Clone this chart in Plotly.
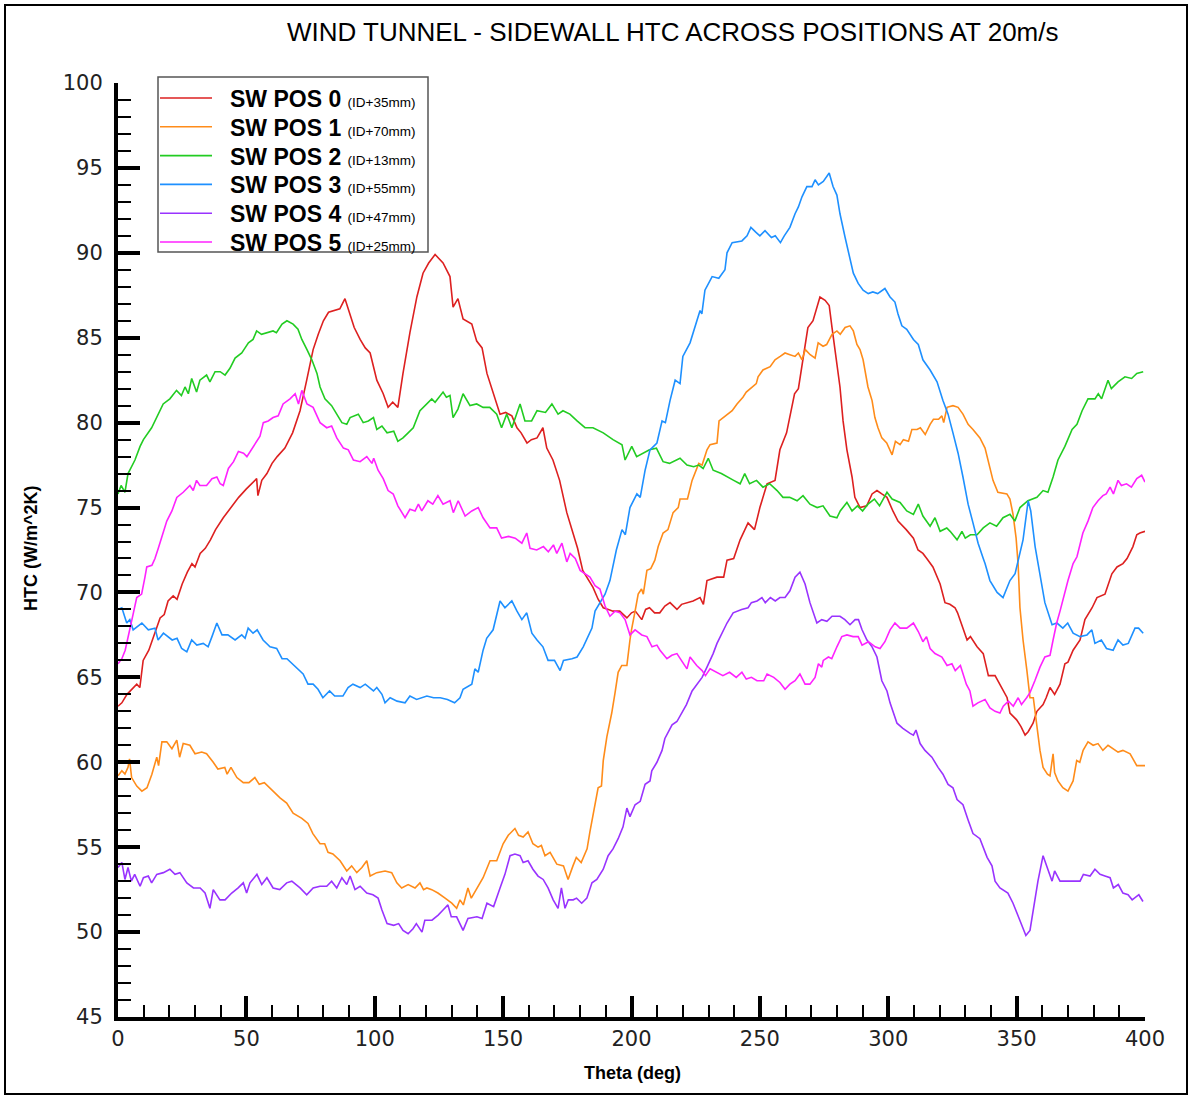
import plotly.graph_objects as go

# ---------------------------------------------------------------------------
# Sidewall heat-transfer coefficient vs. angular position, wind tunnel @ 20 m/s
# ---------------------------------------------------------------------------

series_names = ["SW POS 0", "SW POS 1", "SW POS 2", "SW POS 3", "SW POS 4", "SW POS 5"]
series_offsets = ["(ID+35mm)", "(ID+70mm)", "(ID+13mm)", "(ID+55mm)", "(ID+47mm)", "(ID+25mm)"]
series_colors = ["#dd2020", "#ff8c1a", "#22cc22", "#1e90ff", "#9933ff", "#ff22ff"]

x_ticks = [0, 50, 100, 150, 200, 250, 300, 350, 400]
y_ticks = [45, 50, 55, 60, 65, 70, 75, 80, 85, 90, 95, 100]

theta_pos0 = [0, 1.5, 3.5, 5.5, 7.3, 8.5, 9.8, 12, 14, 16.4, 18, 19.5, 21.5, 23, 25, 27, 28.8, 30, 32, 34,
              36, 38, 41, 43, 44.8, 47, 50, 52, 54, 54.5, 56, 58, 60, 62, 65, 68, 70.9, 73.5, 76, 78,
              80, 82, 83.8, 86.4, 88.4, 90.4, 92, 94.3, 96.3, 98.2, 100.8, 103.3, 105.2, 107, 109, 111, 113.7, 116.4, 118.8, 121,
              123.5, 126.6, 129.3, 130.5, 132.4, 134.4, 137.8, 139.7, 141.8, 143.7, 144.9, 146.8, 148.8, 151, 153.4, 155.4, 157, 159.3, 161, 163.2,
              165.5, 167, 169.4, 172, 174.8, 177.2, 179, 181, 183, 185, 187, 189, 191, 192.8, 195.4, 198.2, 200, 201.5, 204, 205.5,
              207, 209, 211, 213, 215, 217.7, 219.5, 221.6, 224, 226.7, 228, 229.4, 231, 233.3, 235.9, 237.2, 239.8, 242.3, 245.4, 247.9,
              250, 252.8, 255.9, 257.8, 260.4, 262.5, 263.5, 265, 266.8, 268.7, 270.7, 272.2, 273.4, 275.4, 277, 278.1, 279.3, 281.2, 282.4, 283.9,
              285.9, 287, 289, 291.6, 293.7, 295.6, 297.5, 299.5, 301.8, 303.8, 307, 309.8, 311.6, 313.5, 315, 317.4, 320.2, 322.1, 324, 326,
              327, 329, 330.7, 332, 334.6, 337, 339, 341.6, 344.3, 346.3, 347.4, 350, 351.7, 353.3, 354.5, 356.4, 357.9, 360.3, 361.5, 363,
              364.8, 366.9, 368.8, 370, 372, 374.7, 376.6, 379.4, 381.3, 384.4, 387.1, 389.1, 391.4, 393, 395.3, 396.8, 398, 400]
htc_pos0 = [63.3, 63.5, 64.0, 64.3, 64.6, 64.4, 66.0, 66.6, 67.5, 68.5, 68.7, 69.5, 69.8, 69.6, 70.5, 71.2, 71.7, 71.5, 72.3, 72.6,
            73.1, 73.7, 74.4, 74.8, 75.2, 75.6, 76.1, 76.4, 76.7, 75.7, 76.6, 77.0, 77.6, 78.0, 78.5, 79.4, 80.7, 82.5, 84.3, 85.2,
            86.0, 86.5, 86.6, 86.7, 87.3, 86.4, 85.6, 84.9, 84.4, 84.1, 82.5, 81.7, 80.9, 81.2, 80.9, 82.9, 85.3, 87.4, 88.8, 89.4,
            89.9, 89.4, 88.6, 86.8, 87.3, 86.1, 85.8, 84.8, 84.4, 82.9, 82.3, 81.5, 80.5, 80.6, 80.4, 79.7, 79.4, 78.8, 79.0, 79.1,
            79.7, 78.5, 77.8, 76.6, 74.7, 73.5, 72.6, 71.3, 70.8, 70.3, 69.6, 69.1, 69.0, 68.9, 68.9, 68.5, 68.8, 68.9, 68.4, 69.0,
            69.1, 68.8, 68.8, 69.2, 69.4, 69.0, 69.3, 69.4, 69.5, 69.7, 69.3, 70.7, 70.8, 70.9, 70.9, 71.9, 72.0, 73.1, 74.1, 73.7,
            75.0, 76.4, 76.6, 78.4, 79.4, 80.9, 81.7, 82.0, 83.7, 85.6, 86.0, 86.8, 87.4, 87.2, 86.9, 85.6, 84.3, 82.1, 80.1, 78.4,
            76.8, 75.6, 75.0, 75.1, 75.8, 76.0, 75.8, 75.6, 74.8, 74.2, 73.7, 73.2, 72.5, 72.3, 72.0, 71.5, 70.5, 69.4, 69.3, 69.1,
            68.8, 67.9, 67.2, 67.4, 66.8, 66.4, 65.1, 65.1, 64.4, 63.8, 62.9, 62.5, 62.1, 61.6, 61.8, 62.3, 63.0, 63.4, 63.8, 64.4,
            64.0, 64.6, 65.8, 65.9, 66.6, 67.2, 68.4, 69.1, 69.7, 69.9, 71.1, 71.5, 71.7, 72.0, 72.7, 73.4, 73.5, 73.6]

theta_pos1 = [0, 1.5, 2.7, 3.9, 4.5, 5.3, 7.3, 9.3, 11.3, 13.2, 15.1, 15.8, 17.1, 19, 21, 22.9, 24, 25.4, 28, 30,
              32.6, 34.5, 37.1, 38.9, 41.6, 42.5, 44, 46.3, 48.8, 51, 53.3, 55, 57, 60.4, 63.1, 65.7, 68.2, 71.6, 74, 75.9,
              78.7, 80.5, 81.8, 83.7, 86.5, 89.1, 91, 93, 95, 96.9, 98.2, 100.8, 104, 106.6, 108.6, 110.5, 113, 115.7, 117.6, 119,
              120.3, 122.2, 124.6, 127.4, 130, 131.9, 133.2, 134.5, 136.3, 137.6, 139.8, 142.2, 144.9, 147.5, 150, 152, 154.6, 156, 157.8, 159.7,
              161.6, 163.6, 164.9, 166.3, 168.3, 170.9, 173.5, 175.3, 177.2, 178.5, 180.4, 182.7, 183.8, 185.8, 187, 188.3, 189, 190.4, 192.3, 193.6,
              194.8, 196.2, 198.2, 199.4, 200, 201.4, 202.6, 203.9, 204.6, 206, 207.5, 209.1, 210.4, 212.3, 214.2, 216.2, 218.2, 218.9, 221.8, 223.6,
              225.5, 226.2, 227.5, 229.4, 230.6, 233.3, 234.1, 236.8, 239.2, 241.1, 243.4, 244.7, 247.3, 248.6, 249.3, 251.2, 254, 255.9, 257.9, 259.8,
              261.7, 263.7, 265, 266.4, 267.7, 269.6, 271.5, 272.7, 274.6, 276, 278.1, 280, 281.3, 283.2, 285.1, 286.4, 287.8, 289, 290.2, 292.1,
              293.7, 294.8, 296, 297.5, 299.4, 301.5, 302.8, 304.6, 305.9, 307.9, 309.2, 311.2, 312.5, 314.4, 316.3, 317.6, 319.6, 320.9, 321.6, 322.9,
              325.2, 327.2, 329.1, 331.1, 333, 335.7, 337.7, 338.9, 340.8, 342.7, 346.2, 347.4, 348.6, 349.8, 350.6, 351.3, 352.5, 354, 355.2, 356.5,
              357.9, 359.1, 360.3, 362, 363, 364.2, 364.8, 366.1, 368, 370, 372, 373.4, 374.6, 375.9, 377.8, 379.8, 381.7, 383.6, 385.6, 387.5,
              389.5, 391.4, 394.2, 396.8, 400]
htc_pos1 = [59.2, 59.5, 59.3, 59.7, 60.2, 59.1, 58.6, 58.3, 58.5, 59.3, 60.3, 59.8, 61.2, 61.2, 60.8, 61.3, 60.3, 61.1, 61.0, 60.5,
            60.6, 60.5, 60.0, 59.6, 59.7, 59.3, 59.7, 59.1, 58.8, 58.8, 59.1, 58.7, 58.8, 58.3, 57.9, 57.6, 57.0, 56.7, 56.4, 55.8,
            55.2, 55.2, 54.7, 54.6, 54.2, 53.6, 53.9, 53.5, 53.8, 54.2, 53.3, 53.5, 53.6, 53.5, 52.9, 52.6, 52.8, 52.6, 52.9, 52.5,
            52.6, 52.5, 52.3, 52.0, 51.7, 51.4, 51.9, 51.6, 52.6, 52.0, 52.6, 53.2, 54.2, 54.2, 55.2, 55.7, 56.1, 55.7, 55.6, 55.9,
            55.2, 55.0, 55.1, 54.5, 54.7, 54.0, 53.9, 53.1, 53.9, 54.4, 54.1, 54.9, 55.9, 57.6, 58.5, 58.6, 60.1, 61.5, 62.9, 64.1,
            65.3, 65.7, 65.7, 67.2, 67.8, 68.9, 69.9, 70.2, 69.9, 71.3, 71.4, 71.9, 72.7, 73.5, 73.7, 74.7, 75.0, 75.5, 75.5, 76.6,
            77.4, 77.6, 77.5, 78.4, 78.7, 78.8, 80.1, 80.4, 80.7, 81.1, 81.5, 81.8, 82.1, 82.3, 82.7, 83.1, 83.3, 83.7, 83.9, 84.1,
            84.0, 83.9, 84.1, 83.7, 84.3, 84.0, 83.8, 84.7, 84.5, 84.6, 85.2, 85.4, 85.2, 85.6, 85.7, 85.4, 84.6, 84.3, 83.7, 82.1,
            81.3, 80.3, 79.7, 79.1, 78.8, 78.1, 78.9, 78.7, 79.0, 78.9, 79.6, 79.6, 79.7, 79.3, 79.9, 80.2, 80.2, 80.4, 80.0, 80.9,
            81.0, 80.9, 80.5, 79.9, 79.6, 79.1, 78.5, 77.8, 76.6, 75.9, 75.8, 75.5, 74.6, 73.2, 71.6, 69.1, 67.2, 65.4, 63.8, 63.8,
            62.0, 60.7, 59.7, 59.3, 59.2, 60.5, 59.4, 58.9, 58.5, 58.3, 58.9, 60.1, 60.0, 60.7, 61.2, 61.0, 61.1, 60.7, 61.0, 60.8,
            60.6, 60.7, 60.5, 59.8, 59.8]

theta_pos2 = [0, 1.2, 2.7, 3.9, 4.6, 6.6, 8.6, 9.9, 13.1, 15.6, 17.6, 20.2, 22.8, 24.7, 26.1, 27.4, 28.7, 30.6, 31.9, 34.5,
              35.8, 37.8, 39.8, 41.7, 43.6, 45.6, 48.2, 49.5, 50.8, 52.6, 54, 55.9, 58.4, 60.4, 61.7, 63.9, 65.8, 68.2, 70.1, 71.6,
              73.6, 75.5, 77.5, 78.7, 80.6, 83.2, 85.2, 87.2, 89.1, 90.4, 93.6, 95.5, 97.5, 99.5, 100.8, 102.8, 104.8, 107.4, 109, 111,
              113, 115, 117.6, 120.3, 122.2, 123.5, 126.6, 127.9, 129.3, 130.5, 132.4, 134.4, 137.1, 139.7, 142.2, 144.8, 147.5, 149.4, 151.4, 153.4,
              155.4, 156.6, 158.5, 161.1, 163.2, 166.5, 169, 171.4, 173.3, 176, 178.8, 181.9, 185, 189, 192.8, 196.3, 197.5, 200.1, 202, 204.7,
              207, 209.7, 212.3, 214.8, 218.9, 221.6, 224.2, 226.2, 227.9, 229.9, 231.8, 235, 237.2, 239.8, 242.3, 244.1, 246, 248.7, 251.2, 253.8,
              256.7, 259, 261.6, 264.5, 266.8, 269.5, 272.3, 274.6, 277.3, 280, 281.3, 283.9, 285.9, 288, 290, 292.1, 294.6, 296.6, 299.5, 301.5,
              304.6, 307.2, 309.8, 311.7, 313.5, 316.3, 318.2, 320.2, 322.8, 324.1, 326.8, 328.7, 330, 332, 334.6, 337, 339.6, 342.2, 344.7, 347.4,
              349.3, 351.3, 354.4, 357.9, 360.3, 362.2, 364.2, 366.1, 368.8, 371.6, 373.5, 375.5, 377.8, 380.5, 381.8, 383.1, 385.6, 386.9, 389.5, 392.2,
              394.8, 396.8, 399.3]
htc_pos2 = [75.8, 76.3, 75.9, 77.0, 77.2, 77.8, 78.6, 79.0, 79.7, 80.5, 81.1, 81.4, 81.9, 81.6, 82.1, 81.7, 82.6, 81.8, 82.5, 82.8,
            82.4, 83.0, 83.0, 82.8, 83.2, 83.8, 84.1, 84.4, 84.7, 84.9, 85.4, 85.2, 85.3, 85.4, 85.3, 85.8, 86.0, 85.8, 85.5, 84.9,
            84.3, 83.7, 82.9, 82.1, 81.4, 81.0, 80.5, 80.0, 79.9, 80.3, 80.5, 80.0, 80.1, 80.3, 79.6, 79.8, 79.4, 79.5, 78.9, 79.1,
            79.4, 79.7, 80.7, 81.1, 81.4, 81.2, 81.8, 81.5, 81.6, 80.3, 80.8, 81.7, 81.0, 81.1, 80.9, 80.9, 80.5, 79.7, 80.5, 79.7,
            80.5, 81.1, 80.1, 80.1, 80.7, 80.6, 81.1, 80.5, 80.7, 80.5, 80.1, 79.7, 79.7, 79.4, 79.0, 78.7, 77.8, 78.6, 78.0, 78.2,
            78.4, 78.5, 77.7, 77.6, 77.9, 77.5, 77.4, 77.5, 77.3, 77.9, 77.2, 77.0, 76.8, 76.6, 76.4, 77.0, 76.4, 76.6, 76.2, 76.4,
            76.0, 75.6, 75.6, 75.4, 75.7, 75.2, 75.0, 75.1, 74.5, 74.4, 74.8, 75.3, 74.8, 75.1, 74.8, 75.2, 75.5, 75.1, 75.9, 75.5,
            75.3, 74.8, 74.6, 75.2, 74.5, 73.9, 74.4, 73.6, 73.8, 73.6, 73.1, 73.6, 73.2, 73.4, 73.4, 73.8, 74.1, 73.9, 74.4, 74.6,
            74.2, 75.0, 75.4, 75.6, 76.0, 75.9, 76.8, 77.8, 78.6, 79.6, 79.9, 80.7, 81.4, 81.4, 81.7, 81.4, 82.5, 82.0, 82.4, 82.7,
            82.6, 82.9, 83.0]

theta_pos3 = [0, 1.5, 3.4, 4.6, 5.9, 9.3, 11.8, 14.4, 15.6, 17.7, 21.1, 23, 24.8, 26.8, 28.7, 30.7, 33.2, 35.1, 36.6, 38.5,
              40.5, 42.8, 45.6, 48.2, 49.5, 50.7, 52.6, 54.2, 56.5, 59.2, 61.8, 63.9, 65.8, 67.8, 70.1, 72.1, 74, 76, 77.9, 79.8,
              82.4, 84.4, 87.6, 89.6, 91.5, 94.3, 96.3, 99.5, 100.8, 102.8, 104, 106, 108.7, 111.8, 113.7, 116.3, 120.3, 122.9, 125.5, 128.3,
              131.1, 133.2, 134.4, 137.8, 139, 140.3, 142.2, 143.6, 146.1, 148.8, 150.7, 153.4, 155.4, 157.3, 159.2, 161.2, 163.2, 165.5, 167.5, 170,
              172.2, 173.5, 176.8, 178.8, 181.2, 183, 184.6, 185.8, 187.7, 189.7, 191.6, 192.8, 194.1, 196.3, 197.6, 199.4, 202.1, 203.4, 205.3, 207.2,
              209.9, 211.9, 213.2, 215, 217, 218.9, 220, 222.8, 224.7, 226.7, 227.4, 228.6, 231.4, 234, 236.4, 237.2, 239.2, 243, 245, 246.5,
              248.5, 250, 252, 254.5, 256, 258, 259.5, 261.7, 263.7, 265, 266.4, 268.3, 270.3, 271.5, 272.8, 274.7, 277, 278.5, 280, 281.2,
              283.2, 285.1, 286.4, 288.3, 290.2, 292.2, 294, 295.9, 298.7, 300.7, 302.6, 303.8, 305.3, 307.2, 309.8, 311.7, 313.5, 316.3, 319, 321.3,
              323.3, 325.2, 327.2, 329.1, 331.1, 333, 335, 337, 337.7, 339.6, 342.4, 344.7, 347.4, 349.4, 350.6, 352.5, 354.5, 355.5, 357.2, 359.1,
              361, 363.8, 365.7, 368, 369.9, 372, 374.7, 377.4, 379.3, 380.5, 383, 385, 387.6, 389.5, 391.4, 393.5, 396.1, 397.5, 399.3]
htc_pos3 = [69.0, 69.1, 68.2, 68.4, 67.8, 68.2, 67.8, 67.9, 67.2, 67.6, 67.2, 67.3, 66.7, 66.5, 67.2, 66.9, 67.0, 66.8, 67.4, 68.2,
            67.5, 67.5, 67.2, 67.5, 67.3, 67.9, 67.6, 67.8, 67.2, 66.8, 66.7, 66.1, 66.1, 65.8, 65.5, 65.2, 64.6, 64.6, 64.3, 63.8,
            64.2, 63.9, 63.9, 64.4, 64.6, 64.4, 64.6, 64.2, 64.4, 64.0, 63.5, 63.8, 63.6, 63.5, 63.9, 63.7, 63.9, 63.8, 63.8, 63.7,
            63.5, 63.8, 64.3, 64.6, 65.5, 65.3, 66.6, 67.3, 67.8, 69.5, 69.1, 69.5, 68.9, 68.4, 68.8, 67.6, 67.2, 66.8, 66.0, 66.0,
            65.4, 66.0, 66.1, 66.2, 66.8, 67.4, 67.9, 68.9, 69.4, 69.9, 70.7, 71.5, 72.5, 73.7, 73.4, 75.0, 75.8, 75.6, 77.2, 78.4,
            78.8, 80.1, 80.0, 81.3, 82.5, 82.3, 83.9, 84.7, 85.6, 86.6, 86.4, 87.8, 88.6, 88.5, 89.0, 90.0, 90.6, 90.7, 91.0, 91.5,
            91.2, 91.0, 91.3, 90.9, 91.0, 90.6, 91.0, 91.5, 92.3, 92.7, 93.3, 93.9, 93.9, 94.3, 94.0, 94.2, 94.7, 93.9, 93.4, 92.3,
            90.9, 89.7, 88.8, 88.2, 87.8, 87.6, 87.7, 87.6, 87.9, 87.4, 87.1, 86.4, 85.7, 85.5, 84.9, 84.6, 83.7, 83.1, 82.4, 81.3,
            80.5, 79.4, 78.2, 76.8, 75.2, 74.1, 72.9, 72.0, 71.7, 70.7, 70.0, 69.7, 70.7, 71.1, 71.9, 73.1, 75.4, 74.8, 72.7, 71.1,
            69.4, 68.1, 68.2, 67.9, 68.2, 67.6, 67.4, 67.5, 67.8, 67.0, 67.2, 66.7, 66.6, 67.2, 66.9, 67.0, 67.9, 67.9, 67.6]

theta_pos4 = [0, 1.5, 2.7, 3.9, 5.2, 6.5, 8.6, 9.9, 11.8, 13.1, 15.1, 17.7, 20.2, 22.2, 24.1, 26.8, 29.4, 32, 33.9, 35.8,
              37.1, 39.7, 41.7, 44.3, 46.8, 48.8, 50.1, 51.4, 54.1, 56, 58, 60.4, 63, 65.7, 67.7, 70.9, 73.5, 76, 78.7, 81.3,
              83.2, 85.2, 87.2, 89.1, 90.4, 92.3, 94.3, 96.9, 99.3, 101.3, 102.8, 104.8, 107.4, 109.3, 111, 113, 114.9, 116.2, 118.4, 119.5,
              122.3, 124.7, 126.6, 128.5, 129.8, 131.9, 134.4, 136.3, 139.8, 141.8, 143.7, 146.3, 148.8, 150.7, 152.7, 154.6, 156.6, 157.8, 159.7, 161.6,
              163.6, 165.6, 167.5, 169.5, 171.4, 172.7, 174.1, 175.4, 177.3, 178.6, 180.6, 182.6, 184.6, 186.5, 189, 190.9, 192.8, 194.8, 196.7, 198.2,
              199.4, 201.4, 203.4, 205.3, 207.2, 207.9, 209.9, 211.9, 213, 215.8, 217.7, 220.1, 221.4, 223.6, 225.5, 227.5, 229.4, 230.7, 231.8, 233.3,
              235.2, 237.2, 239.6, 242.9, 245.4, 246.7, 248.9, 250.8, 252.1, 254.1, 256, 257.8, 259.8, 261.7, 263.7, 265.6, 267.6, 269.5, 272.2, 274.1,
              276.1, 278.1, 281.2, 283.1, 285.1, 287.1, 288.4, 289.8, 291.7, 293.7, 295.6, 297.5, 299.5, 300.7, 303.4, 305.7, 308.5, 309.8, 310.8, 312.4,
              314.3, 317, 319.4, 321.3, 323.3, 325.2, 326.8, 329.1, 331.1, 333, 335.7, 338.5, 340.4, 341.6, 343.5, 346.6, 348.6, 351.3, 353.6, 355.2,
              356.4, 358.3, 360.3, 362.2, 363.8, 364.8, 366.9, 369.5, 372.1, 374.7, 376, 378.6, 380.5, 382.5, 384.4, 386.4, 387.7, 389.6, 391.4, 393.4,
              395, 397.6, 399.2]
htc_pos4 = [53.8, 54.1, 53.1, 53.8, 53.0, 53.4, 52.7, 53.2, 53.3, 52.9, 53.4, 53.5, 53.7, 53.4, 53.5, 52.9, 52.6, 52.6, 52.3, 51.4,
            52.5, 51.9, 51.9, 52.3, 52.6, 52.9, 52.3, 52.9, 53.4, 52.8, 53.2, 52.6, 52.5, 52.9, 53.0, 52.6, 52.2, 52.6, 52.7, 52.7,
            53.0, 52.6, 53.2, 52.8, 53.3, 52.5, 52.7, 52.3, 52.2, 52.0, 51.3, 50.5, 50.4, 50.5, 50.1, 49.9, 50.2, 50.5, 50.0, 50.7,
            50.7, 51.0, 51.3, 51.6, 50.9, 50.9, 50.1, 50.8, 50.9, 50.8, 51.7, 51.5, 52.6, 53.4, 54.5, 54.6, 54.5, 54.1, 54.2, 53.7,
            53.3, 53.1, 52.6, 51.9, 51.4, 52.6, 51.4, 51.9, 51.9, 52.0, 51.7, 52.0, 52.9, 53.1, 53.7, 54.5, 54.9, 55.5, 56.2, 57.3,
            56.8, 57.5, 57.7, 58.7, 58.9, 59.5, 60.0, 60.7, 61.4, 62.2, 62.4, 63.1, 63.4, 64.2, 64.6, 65.0, 65.6, 66.0, 66.4, 67.0,
            67.6, 68.2, 68.8, 69.0, 69.1, 69.4, 69.5, 69.7, 69.4, 69.7, 69.5, 69.7, 69.7, 70.1, 70.9, 71.2, 70.5, 69.4, 68.2, 68.4,
            68.3, 68.6, 68.6, 68.4, 68.1, 68.4, 68.4, 67.8, 67.2, 66.8, 66.2, 64.8, 64.2, 63.5, 62.3, 62.0, 61.7, 61.6, 61.9, 61.1,
            60.7, 60.3, 59.7, 59.3, 58.7, 58.5, 57.8, 57.5, 56.6, 55.8, 55.5, 54.4, 53.9, 53.0, 52.6, 52.3, 51.7, 50.7, 49.8, 50.1,
            51.3, 53.0, 54.5, 53.7, 53.0, 53.6, 53.0, 53.0, 53.0, 53.0, 53.4, 53.3, 53.7, 53.4, 53.3, 53.2, 52.6, 52.8, 52.3, 52.2,
            51.9, 52.2, 51.8]

theta_pos5 = [0, 1.5, 2.8, 4.7, 6, 7.3, 9.2, 10.5, 11.2, 13.2, 14.4, 15.7, 17.1, 19, 21, 22.9, 25.4, 28, 29.3, 30.6,
              31.9, 34.5, 36.6, 38.5, 39.8, 41, 43, 45, 46.9, 48.9, 50.2, 52.2, 54, 55.3, 56.6, 58.5, 60.4, 62.4, 64.3, 67,
              69, 70.3, 71.6, 73.6, 76, 78.7, 81.3, 83.2, 85.2, 87.8, 89.7, 91.7, 94.3, 96.9, 98.9, 99.6, 101.3, 103.3, 105.2, 107.2,
              109, 111.8, 113.7, 115.7, 117, 118.3, 120.7, 122.6, 124.6, 126.6, 129.3, 130.6, 132.5, 135.2, 137.8, 140.3, 142.2, 144.9, 147.5, 149.4,
              152.1, 154.7, 157.3, 159.2, 160.5, 163.1, 165.7, 167.6, 169.6, 170.9, 172.9, 174.8, 176.1, 178.1, 180, 182, 183.8, 185.8, 187.7, 189.7,
              191.6, 193.6, 195.5, 197.5, 199.4, 201.4, 204, 206, 208, 209.9, 211.1, 213.8, 215.7, 217.7, 219.7, 221.6, 222.8, 225.4, 227.5, 228.8,
              230.6, 233.3, 235.6, 238.2, 240.8, 243, 244.7, 246.7, 248.9, 251.5, 252.8, 255.4, 257.8, 259.8, 261.7, 263.7, 265.6, 267.6, 269.5, 271.5,
              272.8, 274.1, 274.7, 276.7, 278, 280, 281.9, 283.9, 286.3, 288.3, 289.8, 292.3, 294.9, 296.8, 298.7, 300.7, 302.6, 304.6, 307.2, 309.8,
              311.7, 313.5, 314.9, 316.3, 318.2, 320.9, 322.9, 324.8, 326.1, 328.1, 329.1, 330.4, 331.8, 333, 334.9, 337.7, 339.6, 341.6, 343.5, 344.8,
              346.8, 348.7, 350.6, 351.9, 353.9, 355.2, 357.1, 359.1, 361, 363, 364.2, 365.6, 366.9, 368, 370, 372, 373.5, 375.8, 377.8, 379.7,
              381.7, 383.6, 384.9, 386.4, 387.7, 389.5, 390.8, 392.8, 394.7, 396.8, 398.7, 400]
htc_pos5 = [65.8, 66.1, 66.6, 67.8, 68.8, 69.7, 69.9, 70.9, 71.5, 71.6, 72.0, 72.6, 73.3, 74.2, 74.8, 75.6, 75.9, 76.3, 76.0, 76.6,
            76.3, 76.3, 76.7, 76.8, 76.4, 76.3, 77.3, 77.7, 78.3, 78.2, 78.0, 78.5, 78.9, 79.2, 80.0, 80.1, 80.3, 80.4, 81.1, 81.4,
            81.7, 81.1, 81.9, 81.1, 80.9, 80.0, 79.7, 79.8, 79.1, 78.5, 78.4, 77.8, 77.7, 78.0, 77.6, 77.9, 77.2, 76.7, 76.0, 75.8,
            75.1, 74.4, 74.9, 74.8, 75.2, 74.8, 75.4, 75.2, 75.7, 75.2, 75.4, 74.7, 75.4, 74.5, 74.8, 75.0, 74.4, 73.8, 73.8, 73.2,
            73.3, 73.2, 72.9, 73.5, 72.6, 72.5, 72.7, 72.4, 72.8, 72.3, 72.9, 71.8, 72.3, 72.0, 71.3, 71.1, 70.9, 70.4, 70.2, 69.2,
            68.6, 68.9, 68.8, 68.4, 67.5, 67.8, 67.5, 67.4, 66.8, 66.9, 66.6, 66.1, 66.3, 66.4, 65.9, 65.5, 66.2, 65.7, 65.4, 65.1,
            65.5, 65.3, 65.1, 65.3, 65.0, 65.3, 64.9, 65.0, 64.8, 64.8, 65.2, 65.0, 64.7, 64.3, 64.6, 64.8, 65.2, 64.6, 64.6, 65.0,
            65.8, 65.6, 66.0, 66.2, 66.1, 66.8, 67.4, 67.5, 67.4, 67.4, 66.9, 67.1, 66.8, 66.7, 67.1, 67.8, 68.2, 67.9, 67.9, 68.2,
            67.7, 67.1, 67.4, 66.7, 66.4, 66.2, 65.7, 65.8, 65.4, 65.7, 65.2, 64.6, 64.2, 63.3, 63.5, 63.7, 63.2, 63.0, 62.9, 63.3,
            63.6, 63.3, 63.8, 63.4, 63.8, 64.1, 64.8, 65.6, 66.2, 66.3, 67.2, 68.2, 68.9, 69.6, 70.7, 71.7, 72.1, 73.5, 74.2, 75.0,
            75.4, 75.7, 75.8, 76.2, 75.8, 76.6, 76.3, 76.4, 76.2, 76.7, 76.9, 76.5]

thetas = [theta_pos0, theta_pos1, theta_pos2, theta_pos3, theta_pos4, theta_pos5]
htcs = [htc_pos0, htc_pos1, htc_pos2, htc_pos3, htc_pos4, htc_pos5]

# ---------------------------------------------------------------------------
# Page geometry (pixels) and helpers to place decorations in paper coordinates
# ---------------------------------------------------------------------------
W, H = 1192, 1101
PLOT_L, PLOT_R, PLOT_T, PLOT_B = 118, 1145, 83, 1017


def paper_x(px):
    return (px - PLOT_L) / (PLOT_R - PLOT_L)


def paper_y(py):
    return (PLOT_B - py) / (PLOT_B - PLOT_T)


fig = go.Figure()

for name, color, th, hv in zip(series_names, series_colors, thetas, htcs):
    fig.add_trace(go.Scatter(
        x=th, y=hv, mode="lines", name=name,
        line=dict(color=color, width=1.6),
        showlegend=False,
    ))

tick_font = dict(family="DejaVu Sans", size=21, color="#222222")

fig.update_xaxes(
    range=[0, 400], tickvals=x_ticks, ticktext=[str(v) for v in x_ticks],
    showgrid=False, zeroline=False,
    showline=True, linecolor="black", linewidth=4,
    ticks="inside", ticklen=21, tickwidth=4, tickcolor="black",
    minor=dict(dtick=10, tick0=0, ticks="inside", ticklen=12, tickwidth=2, tickcolor="black"),
    tickfont=tick_font, ticklabelstandoff=0,
)
fig.update_yaxes(
    range=[45, 100], tickvals=y_ticks, ticktext=[str(v) for v in y_ticks],
    showgrid=False, zeroline=False,
    showline=True, linecolor="black", linewidth=4,
    ticks="inside", ticklen=22, tickwidth=4, tickcolor="black",
    minor=dict(dtick=1, tick0=45, ticks="inside", ticklen=13, tickwidth=2, tickcolor="black"),
    tickfont=tick_font, ticklabelstandoff=7,
)

shapes = []
annotations = []

# Outer frame around the whole page
shapes.append(dict(type="rect", xref="paper", yref="paper",
                   x0=paper_x(5), x1=paper_x(1187), y0=paper_y(1094), y1=paper_y(5),
                   line=dict(color="black", width=2), fillcolor="rgba(0,0,0,0)", layer="below"))

# Legend box
shapes.append(dict(type="rect", xref="paper", yref="paper",
                   x0=paper_x(158), x1=paper_x(428), y0=paper_y(252), y1=paper_y(77),
                   line=dict(color="#555555", width=1.5), fillcolor="white", layer="above"))

row0, row_step = 98, 28.8
for i, (name, off, color) in enumerate(zip(series_names, series_offsets, series_colors)):
    ry = row0 + i * row_step
    shapes.append(dict(type="line", xref="paper", yref="paper",
                       x0=paper_x(160), x1=paper_x(212), y0=paper_y(ry), y1=paper_y(ry),
                       line=dict(color=color, width=1.6), layer="above"))
    annotations.append(dict(
        xref="paper", yref="paper", x=paper_x(228), y=paper_y(ry + 1),
        xanchor="left", yanchor="middle", showarrow=False,
        text=f"<b>{name}</b> <span style='font-size:13.5px'>{off}</span>",
        font=dict(family="Liberation Sans", size=23, color="black"),
    ))

# Title and axis titles
annotations.append(dict(
    xref="paper", yref="paper", x=paper_x(672), y=paper_y(32),
    xanchor="center", yanchor="middle", showarrow=False,
    text="WIND TUNNEL - SIDEWALL HTC ACROSS POSITIONS AT 20m/s",
    font=dict(family="Liberation Sans", size=26, color="black"),
))
annotations.append(dict(
    xref="paper", yref="paper", x=paper_x(632), y=paper_y(1073),
    xanchor="center", yanchor="middle", showarrow=False,
    text="<b>Theta (deg)</b>",
    font=dict(family="Liberation Sans", size=18, color="black"),
))
annotations.append(dict(
    xref="paper", yref="paper", x=paper_x(31), y=paper_y(548),
    xanchor="center", yanchor="middle", showarrow=False, textangle=-90,
    text="<b>HTC (W/m^2K)</b>",
    font=dict(family="Liberation Sans", size=18, color="black"),
))

fig.update_layout(
    width=W, height=H,
    margin=dict(l=PLOT_L, r=W - PLOT_R, t=PLOT_T, b=H - PLOT_B, pad=0),
    paper_bgcolor="white", plot_bgcolor="white",
    shapes=shapes, annotations=annotations,
    showlegend=False,
)

fig.write_html("out.html")
